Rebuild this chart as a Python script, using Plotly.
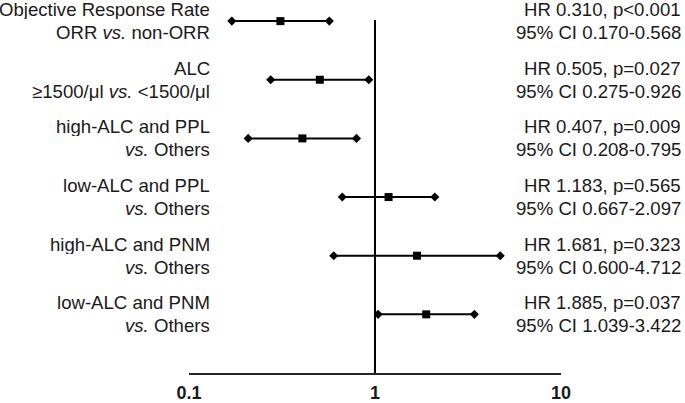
import plotly.graph_objects as go

labels_top = ["Objective Response Rate", "ALC", "high-ALC and PPL", "low-ALC and PPL",
              "high-ALC and PNM", "low-ALC and PNM"]
labels_bottom = ["ORR <i>vs.</i> non-ORR", "≥1500/μl <i>vs.</i> &lt;1500/μl", "<i>vs.</i> Others",
                 "<i>vs.</i> Others", "<i>vs.</i> Others", "<i>vs.</i> Others"]
hr = [0.310, 0.505, 0.407, 1.183, 1.681, 1.885]
ci_low = [0.170, 0.275, 0.208, 0.667, 0.600, 1.039]
ci_high = [0.568, 0.926, 0.795, 2.097, 4.712, 3.422]
p_text = ["p<0.001", "p=0.027", "p=0.009", "p=0.565", "p=0.323", "p=0.037"]
tick_vals = [0.1, 1, 10]
tick_text = ["0.1", "1", "10"]

n = len(hr)
ypos = [n - i for i in range(n)]  # 6 .. 1

FONT = "Liberation Sans, Arial, sans-serif"
TXT = "#1a1a1a"
FS = 18.6

W, H = 685, 403
L, R, T, B = 189, 124, 0, 30
pw = W - L - R
left_x = (212 - L) / pw
right_x = (683 - L) / pw

fig = go.Figure()

# whisker lines
lx, ly = [], []
for lo, hi, y in zip(ci_low, ci_high, ypos):
    lx += [lo, hi, None]
    ly += [y, y, None]
fig.add_trace(go.Scatter(x=lx, y=ly, mode="lines", line=dict(color="black", width=2),
                         hoverinfo="skip", showlegend=False))
# CI end diamonds
fig.add_trace(go.Scatter(x=ci_low + ci_high, y=ypos + ypos, mode="markers",
                         marker=dict(symbol="diamond", size=7, color="black"),
                         showlegend=False))
# HR squares
fig.add_trace(go.Scatter(x=hr, y=ypos, mode="markers",
                         marker=dict(symbol="square", size=8, color="black"),
                         showlegend=False))

# reference line at HR = 1
fig.add_shape(type="line", x0=1, x1=1, y0=0, y1=n + 0.02, xref="x", yref="y",
              line=dict(color="black", width=2))

common = dict(showarrow=False, xanchor="right", yanchor="middle", height=20,
              font=dict(size=FS, color=TXT, family=FONT), yref="y", xref="paper")
for i in range(n):
    y = ypos[i]
    fig.add_annotation(x=left_x, y=y, text=labels_top[i], yshift=12, **common)
    fig.add_annotation(x=left_x, y=y, text=labels_bottom[i], yshift=-11, **common)
    fig.add_annotation(x=right_x, y=y, text=f"HR {hr[i]:.3f}, {p_text[i]}", yshift=12, **common)
    fig.add_annotation(x=right_x, y=y, text=f"95% CI {ci_low[i]:.3f}-{ci_high[i]:.3f}",
                       yshift=-11, **common)

fig.update_layout(
    width=W, height=H,
    margin=dict(l=L, r=R, t=T, b=B, autoexpand=False),
    plot_bgcolor="white", paper_bgcolor="white",
    font=dict(family=FONT, size=FS, color=TXT),
    xaxis=dict(type="log", range=[-1, 1], showgrid=False, zeroline=False,
               showline=True, linecolor="#262626", linewidth=1.5, automargin=False,
               tickvals=tick_vals, ticktext=[f"<b>{t}</b>" for t in tick_text],
               ticks="", ticklabelstandoff=3,
               tickfont=dict(size=18, color=TXT, family=FONT)),
    yaxis=dict(range=[0, 6.36], visible=False, showgrid=False, zeroline=False,
               automargin=False),
)

fig.write_html("out.html", config={"displayModeBar": False},
               post_script="document.body.style.margin='0';document.body.style.overflow='hidden';")
